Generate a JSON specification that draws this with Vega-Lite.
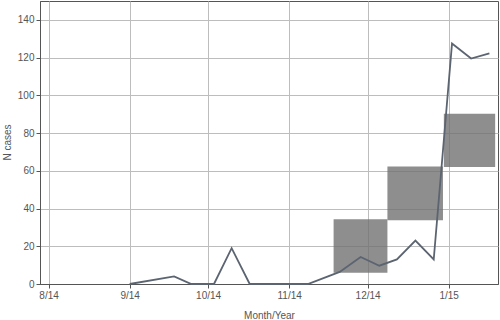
{
  "$schema": "https://vega.github.io/schema/vega-lite/v6.json",
  "autosize": {"type": "none"},
  "padding": {"left": 40, "top": 1, "right": 1, "bottom": 35},
  "width": 458,
  "height": 283,
  "background": "white",
  "config": {
    "view": {"stroke": "#555555", "strokeWidth": 1},
    "font": "Liberation Sans",
    "axis": {
      "labelFont": "Liberation Sans",
      "titleFont": "Liberation Sans",
      "labelFontSize": 10,
      "titleFontSize": 10,
      "labelColor": "#555555",
      "titleColor": "#555555",
      "titleFontWeight": "normal",
      "domainColor": "#555555",
      "tickColor": "#555555",
      "gridColor": "#bdbdbd",
      "gridWidth": 1
    }
  },
  "datasets": {
    "cases": [
      {"date": "2014-09-01T00:00:00Z", "n": 0},
      {"date": "2014-09-18T00:00:00Z", "n": 4},
      {"date": "2014-09-24T14:00:00Z", "n": 0},
      {"date": "2014-10-03T06:00:00Z", "n": 0},
      {"date": "2014-10-10T00:00:00Z", "n": 19},
      {"date": "2014-10-16T22:00:00Z", "n": 0},
      {"date": "2014-11-08T04:00:00Z", "n": 0},
      {"date": "2014-11-20T08:00:00Z", "n": 6.4},
      {"date": "2014-11-28T08:00:00Z", "n": 14.3},
      {"date": "2014-12-05T12:00:00Z", "n": 9.7},
      {"date": "2014-12-12T05:00:00Z", "n": 13},
      {"date": "2014-12-19T07:00:00Z", "n": 23},
      {"date": "2014-12-26T07:00:00Z", "n": 13},
      {"date": "2015-01-02T07:00:00Z", "n": 127.5},
      {"date": "2015-01-09T14:00:00Z", "n": 119.5},
      {"date": "2015-01-16T14:00:00Z", "n": 122.2}
    ],
    "boxes": [
      {"start": "2014-11-18T00:00:00Z", "end": "2014-12-08T14:00:00Z", "low": 6, "high": 34.3},
      {"start": "2014-12-08T14:00:00Z", "end": "2014-12-29T20:00:00Z", "low": 33.8, "high": 62.3},
      {"start": "2014-12-30T04:00:00Z", "end": "2015-01-18T19:00:00Z", "low": 62, "high": 90.3}
    ]
  },
  "layer": [
    {
      "data": {"name": "boxes"},
      "mark": {"type": "rect", "fill": "#6e6e6e", "opacity": 0.78},
      "encoding": {
        "x": {
          "field": "start", "type": "temporal",
          "scale": {"type": "utc", "domain": [
            {"year": 2014, "month": 7, "date": 28, "hours": 17, "utc": true},
            {"year": 2015, "month": 1, "date": 19, "hours": 21, "utc": true}
          ]},
          "axis": {
            "title": "Month/Year",
            "format": "%-m/%y",
            "values": [
              {"year": 2014, "month": 8, "date": 1, "utc": true},
              {"year": 2014, "month": 9, "date": 1, "utc": true},
              {"year": 2014, "month": 10, "date": 1, "utc": true},
              {"year": 2014, "month": 11, "date": 1, "utc": true},
              {"year": 2014, "month": 12, "date": 1, "utc": true},
              {"year": 2015, "month": 1, "date": 1, "utc": true}
            ],
            "grid": true,
            "tickSize": 4,
            "labelPadding": 2,
            "titlePadding": 10
          }
        },
        "x2": {"field": "end"},
        "y": {
          "field": "low", "type": "quantitative",
          "scale": {"domain": [0, 150], "nice": false, "zero": true},
          "axis": {
            "title": "N cases",
            "values": [0,5,10,15,20,25,30,35,40,45,50,55,60,65,70,75,80,85,90,95,100,105,110,115,120,125,130,135,140,145,150],
            "labelExpr": "datum.value % 20 === 0 ? datum.label : ''",
            "gridOpacity": {"condition": {"test": "datum.value % 20 === 0 && datum.value > 0", "value": 1}, "value": 0},
            "tickSize": {"condition": {"test": "datum.value % 20 === 0", "value": 4}, "value": 2},
            "labelPadding": 2,
            "titleX": -33,
            "titleY": 141,
            "titleAngle": 270,
            "titleAlign": "center",
            "titleBaseline": "middle"
          }
        },
        "y2": {"field": "high"}
      }
    },
    {
      "data": {"name": "cases"},
      "mark": {"type": "line", "color": "#5b6470", "strokeWidth": 1.8},
      "encoding": {
        "x": {"field": "date", "type": "temporal"},
        "y": {"field": "n", "type": "quantitative"}
      }
    }
  ]
}
